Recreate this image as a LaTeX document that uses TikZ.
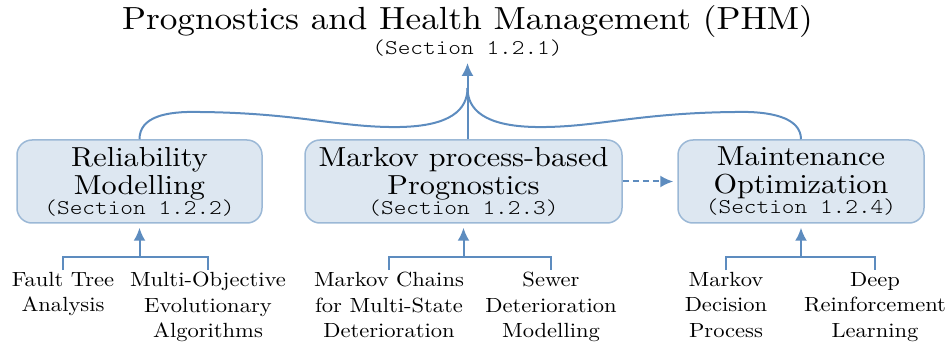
\documentclass[tikz,border=0pt]{standalone}
\usepackage{fontspec}
\setmainfont{lmroman10-regular.otf}[FakeStretch=1.1]
\newfontfamily\secttfont{lmmonolt10-regular.otf}[FakeStretch=1.15]
\usetikzlibrary{arrows.meta,calc}

\definecolor{boxfill}{HTML}{DDE7F1}
\definecolor{boxline}{HTML}{9BB8D6}
\definecolor{linkblue}{HTML}{5D8CBF}

\newcommand{\secref}[1]{{\fontsize{21}{28}\selectfont\secttfont (Section #1)}}

\tikzset{
  topic/.style={draw=boxline, line width=1.5pt, fill=boxfill, rounded corners=15pt,
    minimum height=83pt, align=center, inner sep=0pt,
    font=\fontsize{27.5}{28}\selectfont},
  leaf/.style={align=center, anchor=north, inner sep=2pt,
    font=\fontsize{20.5}{25.5}\selectfont},
  link/.style={draw=linkblue, line width=2pt},
  up/.style={link, -{Latex[length=13pt,width=12pt]}, shorten >=4pt},
}

\begin{document}
\begin{tikzpicture}[x=1pt, y=-1pt]
  \useasboundingbox (0,0) rectangle (947,347);

  % heading
  \node[anchor=base, inner sep=0pt, font=\fontsize{32}{36}\selectfont] (title) at (467.5,30)
    {Prognostics and Health Management (PHM)};
  \node[anchor=base, inner sep=2pt] (secT) at (467.5,55) {\secref{1.2.1}};

  % the three topic boxes
  \node[topic, minimum width=245pt] (b1) at (139.5,181.5)
    {Reliability\\Modelling\\[-8pt]\secref{1.2.2}};
  \node[topic, minimum width=317pt] (b2) at (463.5,181.5)
    {Markov process-based\\Prognostics\\[-8pt]\secref{1.2.3}};
  \node[topic, minimum width=246pt] (b3) at (801,181.5)
    {Maintenance\\Optimization\\[-8pt]\secref{1.2.4}};

  % methods under each topic
  \node[leaf] (l1a) at (63,270)  {Fault Tree\\Analysis};
  \node[leaf] (l1b) at (208,270) {Multi-Objective\\Evolutionary\\Algorithms};
  \node[leaf] (l2a) at (389,270) {Markov Chains\\for Multi-State\\Deterioration};
  \node[leaf] (l2b) at (551,270) {Sewer\\Deterioration\\Modelling};
  \node[leaf] (l3a) at (726,270) {Markov\\Decision\\Process};
  \node[leaf] (l3b) at (875,270) {Deep\\Reinforcement\\Learning};

  % junctions of the brackets
  \coordinate (j1) at (b1.south |- 0,257);
  \coordinate (j2) at (b2.south |- 0,257);
  \coordinate (j3) at (b3.south |- 0,257);
  \coordinate (jn) at (secT.south |- 0,88);

  % brackets from methods to topics
  \draw[link] (l1a.north) |- (j1) -| (l1b.north);
  \draw[link] (l2a.north) |- (j2) -| (l2b.north);
  \draw[link] (l3a.north) |- (j3) -| (l3b.north);
  \draw[up] (j1) -- (b1.south);
  \draw[up] (j2) -- (b2.south);
  \draw[up] (j3) -- (b3.south);

  % topics feeding into PHM
  \draw[up] (b2.north -| secT.south) -- (secT.south);
  \draw[link] (b1.north) .. controls +(0,-22) and (165,111) .. (200,112)
    .. controls (300,113) and (340,128) .. (400,127)
    .. controls (450,126) and (467.5,110) .. (jn);
  \draw[link] (b3.north) .. controls +(0,-22) and (770,111) .. (735,112)
    .. controls (635,113) and (595,128) .. (535,127)
    .. controls (485,126) and (467.5,110) .. (jn);

  % prognostics informs maintenance
  \draw[up, dash pattern=on 6pt off 4pt] (b2.east) -- (b3.west);
\end{tikzpicture}
\end{document}
